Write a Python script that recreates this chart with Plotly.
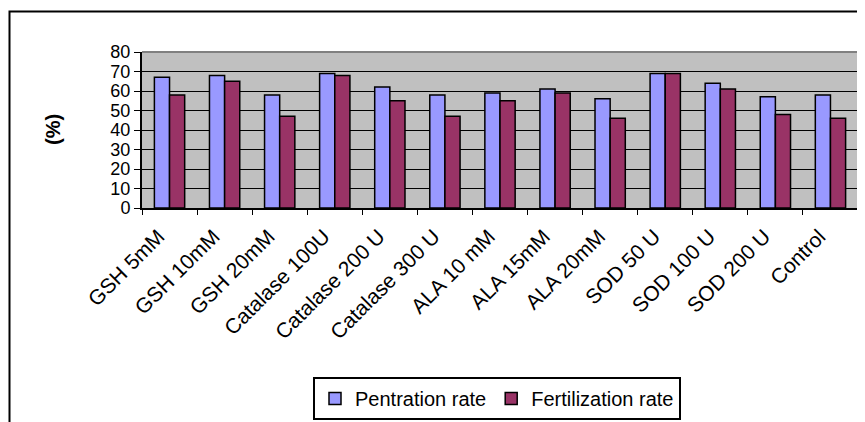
import plotly.graph_objects as go

categories = ["GSH 5mM", "GSH 10mM", "GSH 20mM", "Catalase 100U", "Catalase 200 U",
              "Catalase 300 U", "ALA 10 mM", "ALA 15mM", "ALA 20mM", "SOD 50 U",
              "SOD 100 U", "SOD 200 U", "Control"]
penetration = [67, 68, 58, 69, 62, 58, 59, 61, 56, 69, 64, 57, 58]
fertilization = [58, 65, 47, 68, 55, 47, 55, 59, 46, 69, 61, 48, 46]
y_ticks = [0, 10, 20, 30, 40, 50, 60, 70, 80]

OFF = 8  # page body margin
W, H = 865 - OFF, 422 - OFF
L, R, T, B = 142 - OFF, 858 - OFF, 52 - OFF, 208 - OFF

fig = go.Figure()
fig.add_trace(go.Bar(name="Pentration rate", x=categories, y=penetration,
                     marker=dict(color="#9999FF", line=dict(color="black", width=1.5))))
fig.add_trace(go.Bar(name="Fertilization rate", x=categories, y=fertilization,
                     marker=dict(color="#993366", line=dict(color="black", width=1.5))))

FAM = "Liberation Sans, Arial, sans-serif"
font = dict(family=FAM, size=20, color="black")
xfont = dict(family=FAM, size=21, color="black")
yfont = dict(family=FAM, size=18, color="black")

def px_x(x):
    return (x - OFF - L) / (R - L)

def px_y(y):
    return (B - (y - OFF)) / (B - T)

fig.update_layout(
    width=W, height=H,
    margin=dict(l=L, r=W - R, t=T, b=H - B, pad=0, autoexpand=False),
    paper_bgcolor="white", plot_bgcolor="#C0C0C0",
    barmode="group", bargap=0.45, bargroupgap=0,
    font=font,
    showlegend=True,
    legend=dict(orientation="h", x=px_x(497), xanchor="center", y=px_y(377), yanchor="top",
                bordercolor="black", borderwidth=2, bgcolor="white",
                font=dict(family=FAM, size=20, color="black"),
                itemwidth=30, tracegroupgap=0),
    xaxis=dict(tickangle=-45, tickson="boundaries", ticks="outside", ticklen=5,
               tickcolor="black", showline=True, linecolor="black", linewidth=2,
               showgrid=False, tickfont=xfont, automargin=False,
               ticklabelshift=-11, ticklabelstandoff=6),
    yaxis=dict(range=[0, 80], tickvals=y_ticks, ticks="outside", ticklen=6,
               tickcolor="black", showline=True, linecolor="black", linewidth=2,
               showgrid=True, gridcolor="black", gridwidth=1, tickfont=yfont,
               zeroline=False, automargin=False),
    annotations=[dict(text="<b>(%)</b>", x=px_x(53), y=0.5, xref="paper", yref="paper",
                      xanchor="center", yanchor="middle",
                      textangle=-90, showarrow=False, font=font)],
    shapes=[
        dict(type="line", xref="paper", yref="paper", x0=0, x1=1, y0=1, y1=1,
             line=dict(color="#808080", width=2)),
        dict(type="line", xref="paper", yref="paper", x0=1, x1=1, y0=0, y1=1,
             line=dict(color="#808080", width=2)),
        dict(type="rect", xref="paper", yref="paper", x0=px_x(9.5), x1=px_x(900),
             y0=px_y(600), y1=px_y(11.5), line=dict(color="black", width=2)),
    ],
)

fig.write_html("out.html")
